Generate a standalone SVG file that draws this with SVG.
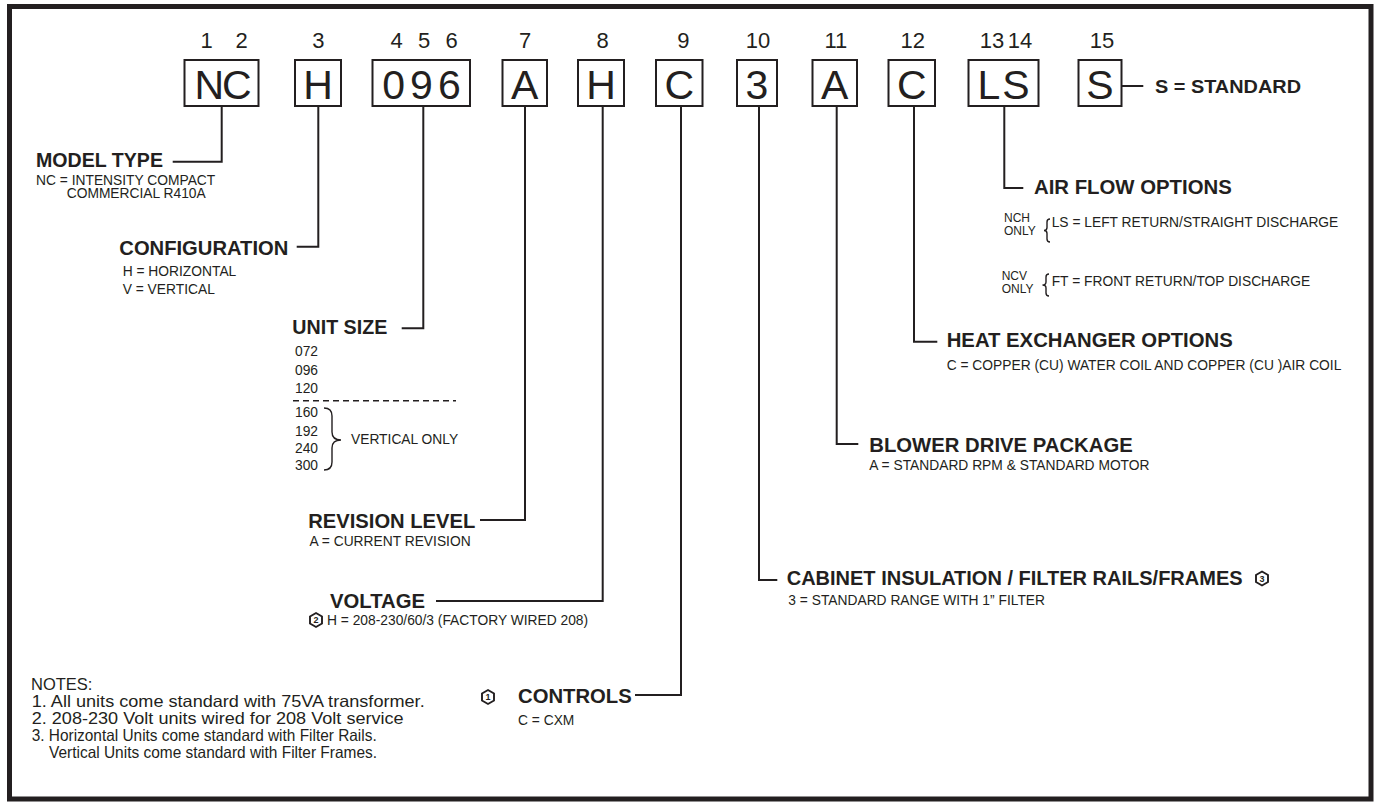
<svg xmlns="http://www.w3.org/2000/svg" width="1378" height="802" viewBox="0 0 1378 802">
<style>
text{font-family:"Liberation Sans",Arial,sans-serif;fill:#231f20}
.num{font-size:22px;text-anchor:middle}
.big{font-size:41px;text-anchor:middle}
.box{fill:none;stroke:#231f20;stroke-width:2}
.title{font-size:21px;font-weight:bold}
.sub{font-size:13.8px}
.small{font-size:12px}
.note{font-size:16.5px}
.conn path{fill:none;stroke:#231f20;stroke-width:2}
.brace{fill:none;stroke:#231f20;stroke-width:1.4}
.hex{fill:#fff;stroke:#231f20;stroke-width:1.9}
.hexd{font-size:9px;font-weight:bold;text-anchor:middle}
</style>
<defs>
<polygon id="hexshape" class="hex" points="0,-7 6,-3.5 6,3.5 0,7 -6,3.5 -6,-3.5"/>
</defs>
<rect x="9.5" y="6.5" width="1361.5" height="792.5" fill="#fff" stroke="#231f20" stroke-width="5"/>

<g id="digit-1-2"><text class="num" x="206.7" y="48">1</text><text class="num" x="241.5" y="48">2</text><rect class="box" x="184.5" y="60" width="74" height="46"/><text class="big" x="222" y="99" letter-spacing="-2">NC</text></g>
<g id="digit-3"><text class="num" x="318.3" y="48">3</text><rect class="box" x="295" y="60" width="46" height="46"/><text class="big" x="318" y="99">H</text></g>
<g id="digit-4-6"><text class="num" x="396.7" y="48">4</text><text class="num" x="424" y="48">5</text><text class="num" x="451.5" y="48">6</text><rect class="box" x="372.5" y="60" width="97.5" height="46"/><text class="big" x="424" y="99" letter-spacing="5">096</text></g>
<g id="digit-7"><text class="num" x="525" y="48">7</text><rect class="box" x="502.5" y="60" width="44.5" height="46"/><text class="big" x="524.7" y="99">A</text></g>
<g id="digit-8"><text class="num" x="602.5" y="48">8</text><rect class="box" x="578" y="60" width="46" height="46"/><text class="big" x="601" y="99">H</text></g>
<g id="digit-9"><text class="num" x="683.3" y="48">9</text><rect class="box" x="656" y="60" width="46.5" height="46"/><text class="big" x="679.3" y="99">C</text></g>
<g id="digit-10"><text class="num" x="758" y="48">10</text><rect class="box" x="737" y="60" width="40" height="46"/><text class="big" x="757" y="99">3</text></g>
<g id="digit-11"><text class="num" x="835.8" y="48">11</text><rect class="box" x="812.5" y="60" width="44.5" height="46"/><text class="big" x="834.7" y="99">A</text></g>
<g id="digit-12"><text class="num" x="912.7" y="48">12</text><rect class="box" x="888.5" y="60" width="46.5" height="46"/><text class="big" x="911.8" y="99">C</text></g>
<g id="digit-13-14"><text class="num" x="992" y="48">13</text><text class="num" x="1020" y="48">14</text><rect class="box" x="968.5" y="60" width="70" height="46"/><text class="big" x="1004.5" y="99" letter-spacing="2">LS</text></g>
<g id="digit-15"><text class="num" x="1102" y="48">15</text><rect class="box" x="1078.5" y="60" width="43" height="46"/><text class="big" x="1100" y="99">S</text></g>

<g class="conn" id="connectors">
<path d="M221.7 106 V161.7 H172.7"/>
<path d="M318.3 106 V246.7 H296.7"/>
<path d="M423.3 106 V328.3 H401.7"/>
<path d="M525 106 V520 H480"/>
<path d="M602.7 106 V601 H436"/>
<path d="M681 106 V695 H635"/>
<path d="M759 106 V580 H777.3"/>
<path d="M836.7 106 V444 H858.3"/>
<path d="M914 106 V341.7 H937.3"/>
<path d="M1004.3 106 V188 H1023.3"/>
<path d="M1121.5 86 H1143.3"/>
</g>

<g id="standard"><text class="title" x="1155" y="93" style="font-size:19px" textLength="146" lengthAdjust="spacingAndGlyphs">S = STANDARD</text></g>

<g id="model-type">
<text class="title" x="36" y="166.7" textLength="127" lengthAdjust="spacingAndGlyphs">MODEL TYPE</text>
<text class="sub" x="36" y="185">NC = INTENSITY COMPACT</text>
<text class="sub" x="66.7" y="198.3">COMMERCIAL R410A</text>
</g>

<g id="configuration">
<text class="title" x="119.3" y="255" textLength="169" lengthAdjust="spacingAndGlyphs">CONFIGURATION</text>
<text class="sub" x="122.7" y="276">H = HORIZONTAL</text>
<text class="sub" x="122.7" y="294.3">V = VERTICAL</text>
</g>

<g id="unit-size">
<text class="title" x="292.3" y="334.3" textLength="95" lengthAdjust="spacingAndGlyphs">UNIT SIZE</text>
<text class="sub" x="295" y="356">072</text>
<text class="sub" x="295" y="375">096</text>
<text class="sub" x="295" y="393.3">120</text>
<path d="M293 400.7 H456" stroke="#231f20" stroke-width="1.5" stroke-dasharray="6 4"/>
<text class="sub" x="295" y="416.7">160</text>
<text class="sub" x="295" y="436">192</text>
<text class="sub" x="295" y="452.7">240</text>
<text class="sub" x="295" y="470">300</text>
<path class="brace" d="M324 408 Q332 408 332 416 L332 432 Q332 440 341 440 Q332 440 332 448 L332 462 Q332 470 324 470"/>
<text class="sub" x="351" y="444">VERTICAL ONLY</text>
</g>

<g id="revision-level">
<text class="title" x="308.3" y="528" textLength="167" lengthAdjust="spacingAndGlyphs">REVISION LEVEL</text>
<text class="sub" x="309.5" y="546">A = CURRENT REVISION</text>
</g>

<g id="voltage">
<text class="title" x="330" y="607.5" textLength="95" lengthAdjust="spacingAndGlyphs">VOLTAGE</text>
<use href="#hexshape" x="316" y="620"/><text class="hexd" x="316" y="623.2">2</text>
<text class="sub" x="327" y="625">H = 208-230/60/3 (FACTORY WIRED 208)</text>
</g>

<g id="controls">
<use href="#hexshape" x="488" y="697"/><text class="hexd" x="488" y="700.2">1</text>
<text class="title" x="518" y="703" textLength="113.7" lengthAdjust="spacingAndGlyphs">CONTROLS</text>
<text class="sub" x="518" y="725">C = CXM</text>
</g>

<g id="cabinet">
<text class="title" x="786.7" y="585" style="font-size:20px">CABINET INSULATION / FILTER RAILS/FRAMES</text>
<use href="#hexshape" x="1262" y="578.5"/><text class="hexd" x="1262" y="581.7">3</text>
<text class="sub" x="788.3" y="605">3 = STANDARD RANGE WITH 1” FILTER</text>
</g>

<g id="blower">
<text class="title" x="869.3" y="451.7" textLength="263.4" lengthAdjust="spacingAndGlyphs">BLOWER DRIVE PACKAGE</text>
<text class="sub" x="869.3" y="470">A = STANDARD RPM &amp; STANDARD MOTOR</text>
</g>

<g id="heat-exchanger">
<text class="title" x="946.7" y="347" textLength="286" lengthAdjust="spacingAndGlyphs">HEAT EXCHANGER OPTIONS</text>
<text class="sub" x="946.7" y="370">C = COPPER (CU) WATER COIL AND COPPER (CU )AIR COIL</text>
</g>

<g id="air-flow">
<text class="title" x="1034" y="194" textLength="197.7" lengthAdjust="spacingAndGlyphs">AIR FLOW OPTIONS</text>
<text class="small" x="1004" y="222">NCH</text>
<text class="small" x="1004" y="235">ONLY</text>
<path class="brace" d="M1050 219 Q1047 219 1047 222 L1047 227.5 Q1047 230.5 1044 230.5 Q1047 230.5 1047 233.5 L1047 239 Q1047 242 1050 242"/>
<text class="sub" x="1051.7" y="227">LS = LEFT RETURN/STRAIGHT DISCHARGE</text>
<text class="small" x="1001.7" y="280">NCV</text>
<text class="small" x="1001.7" y="293">ONLY</text>
<path class="brace" d="M1049 274 Q1046 274 1046 277 L1046 282 Q1046 285 1042.5 285 Q1046 285 1046 288 L1046 293 Q1046 296 1049 296"/>
<text class="sub" x="1051.7" y="286">FT = FRONT RETURN/TOP DISCHARGE</text>
</g>

<g id="notes">
<text class="note" x="31" y="690">NOTES:</text>
<text class="note" x="31.7" y="707" textLength="393" lengthAdjust="spacingAndGlyphs">1. All units come standard with 75VA transformer.</text>
<text class="note" x="31.7" y="724" textLength="372" lengthAdjust="spacingAndGlyphs">2. 208-230 Volt units wired for 208 Volt service</text>
<text class="note" x="31.7" y="740.5" textLength="345" lengthAdjust="spacingAndGlyphs">3. Horizontal Units come standard with Filter Rails.</text>
<text class="note" x="49" y="757.5" textLength="328" lengthAdjust="spacingAndGlyphs">Vertical Units come standard with Filter Frames.</text>
</g>
</svg>
